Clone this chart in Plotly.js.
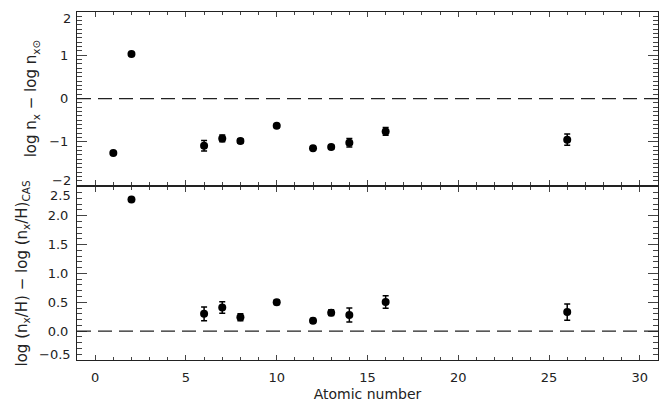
<!DOCTYPE html>
<html>
<head>
<meta charset="utf-8">
<script src="https://cdn.plot.ly/plotly-3.0.1.min.js"></script>
<style>html,body{margin:0;padding:0;background:#fff;}#chart{width:663px;height:405px;}</style>
</head>
<body>
<div id="chart"></div>
<script>
// Atomic numbers of the elements in each panel
const atomicTop = [1, 2, 6, 7, 8, 10, 12, 13, 14, 16, 26];
const relSolar = [-1.26, 1.03, -1.09, -0.92, -0.98, -0.63, -1.15, -1.12, -1.02, -0.76, -0.95];
const relSolarErr = [0, 0, 0.12, 0.08, 0.05, 0.04, 0.04, 0.05, 0.10, 0.09, 0.13];

const atomicBottom = [2, 6, 7, 8, 10, 12, 13, 14, 16, 26];
const relCAS = [2.28, 0.30, 0.41, 0.24, 0.50, 0.18, 0.32, 0.28, 0.505, 0.33];
const relCASErr = [0, 0.12, 0.10, 0.06, 0.04, 0.04, 0.05, 0.12, 0.11, 0.14];

const xTickVals = [0, 5, 10, 15, 20, 25, 30];
// inner tick labels (drawn by the axes) and edge labels (nudged inward, as in the original)
const topInnerTicks = [-1, 0, 1];
const topEdgeTicks = [{v: 2, t: '2', shift: -6}, {v: -2, t: '\u22122', shift: 5}];
const botInnerTicks = [0, 0.5, 1, 1.5, 2];
const botEdgeTicks = [{v: 2.5, t: '2.5', shift: -9}, {v: -0.5, t: '\u22120.5', shift: 6}];

const ink = '#222';
const fontFam = '"DejaVu Sans", "Liberation Sans", Arial, sans-serif';
const fsz = 13;

const markerStyle = {color: '#000', size: 8};
const errStyle = {type: 'data', visible: true, color: '#000', thickness: 1.5, width: 3};

const traces = [
  {
    x: atomicTop, y: relSolar, xaxis: 'x2', yaxis: 'y2', mode: 'markers', type: 'scatter',
    marker: markerStyle, error_y: Object.assign({array: relSolarErr}, errStyle),
    showlegend: false, hoverinfo: 'x+y'
  },
  {
    x: atomicBottom, y: relCAS, xaxis: 'x', yaxis: 'y', mode: 'markers', type: 'scatter',
    marker: markerStyle, error_y: Object.assign({array: relCASErr}, errStyle),
    showlegend: false, hoverinfo: 'x+y'
  }
];

const tickFont = {family: fontFam, size: fsz, color: ink};
const yTitleFont = {family: fontFam, size: 15, color: ink};
const xTitleFont = {family: fontFam, size: 14, color: ink};
const commonAxis = {
  showline: true, linecolor: ink, linewidth: 1, mirror: 'ticks',
  ticks: 'inside', tickcolor: '#444', zeroline: false, showgrid: false,
  tickfont: tickFont
};

const edgeAnn = (list, yref) => list.map(e => ({
  xref: 'paper', x: 0, xanchor: 'right', xshift: -5,
  yref: yref, y: e.v, yanchor: 'middle', yshift: e.shift,
  text: e.t, showarrow: false, font: tickFont, borderpad: 0
}));

const layout = {
  width: 663, height: 405,
  margin: {l: 77, r: 5, t: 12, b: 45},
  paper_bgcolor: '#fff', plot_bgcolor: '#fff',
  font: {family: fontFam, size: fsz, color: ink},
  showlegend: false,
  xaxis: Object.assign({}, commonAxis, {
    anchor: 'y', domain: [0, 1], range: [-1, 31],
    tickvals: xTickVals, ticklen: 5,
    minor: {dtick: 1, ticklen: 3, ticks: 'inside', tickcolor: '#444'},
    ticklabelstandoff: 5,
    title: {text: 'Atomic number', standoff: 5, font: xTitleFont}
  }),
  xaxis2: Object.assign({}, commonAxis, {
    anchor: 'y2', domain: [0, 1], range: [-1, 31], matches: 'x',
    tickvals: xTickVals, ticklen: 5, showticklabels: false,
    minor: {dtick: 1, ticklen: 3, ticks: 'inside', tickcolor: '#444'}
  }),
  yaxis: Object.assign({}, commonAxis, {
    anchor: 'x', domain: [0, 0.4975], range: [-0.5, 2.5],
    tickvals: botInnerTicks, tickformat: '.1f', ticklen: 10,
    minor: {dtick: 0.1, ticklen: 5, ticks: 'inside', tickcolor: '#444'},
    ticklabelstandoff: 5,
    title: {text: 'log (n<sub>x</sub>/H) \u2212 log (n<sub>x</sub>/H)<sub>CAS</sub>', standoff: 16,
            font: yTitleFont}
  }),
  yaxis2: Object.assign({}, commonAxis, {
    anchor: 'x2', domain: [0.5025, 1], range: [-2, 2],
    tickvals: topInnerTicks, ticklen: 10,
    minor: {dtick: 0.1, ticklen: 5, ticks: 'inside', tickcolor: '#444'},
    ticklabelstandoff: 5,
    title: {text: 'log n<sub>x</sub> \u2212 log n<sub>x\u2299</sub>', standoff: 8,
            font: yTitleFont}
  }),
  annotations: edgeAnn(topEdgeTicks, 'y2').concat(edgeAnn(botEdgeTicks, 'y')),
  shapes: [
    {type: 'line', xref: 'x2 domain', x0: 0, x1: 1, yref: 'y2', y0: 0, y1: 0,
     line: {color: ink, width: 1.3, dash: '14px,7px'}},
    {type: 'line', xref: 'x domain', x0: 0, x1: 1, yref: 'y', y0: 0, y1: 0,
     line: {color: ink, width: 1.3, dash: '14px,7px'}}
  ]
};

Plotly.newPlot('chart', traces, layout, {displayModeBar: false, staticPlot: true});
</script>
</body>
</html>
